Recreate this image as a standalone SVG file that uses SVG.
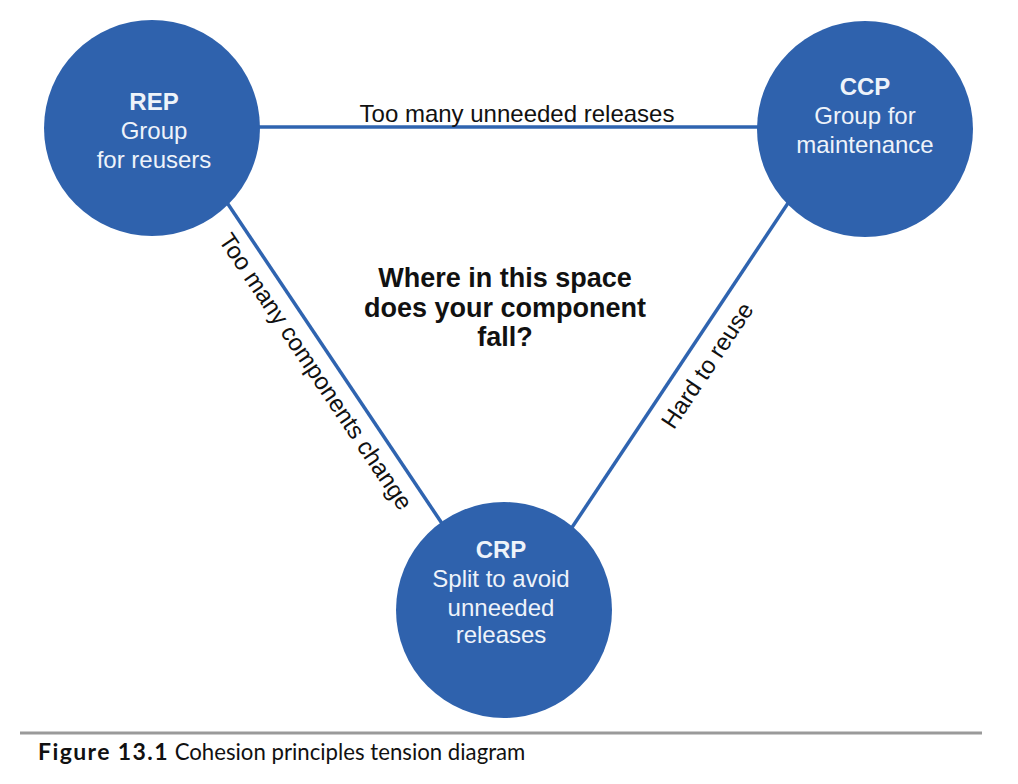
<svg xmlns="http://www.w3.org/2000/svg" width="1018" height="784" viewBox="0 0 1018 784">
<style>
.node{fill:#2f62ad}
.conn{stroke:#2f64b0;stroke-width:3.5;fill:none}
.nt{font-family:"Liberation Sans",Arial,sans-serif;font-size:24px;fill:#eef3fa;text-anchor:middle}
.nb{font-weight:bold}
.lbl{font-family:"Liberation Sans",Arial,sans-serif;font-size:24px;fill:#111;text-anchor:middle}
.q{font-family:"Liberation Sans",Arial,sans-serif;font-size:27px;font-weight:bold;fill:#111;text-anchor:middle}
.cap{font-family:Lato,"Open Sans",sans-serif;font-size:22.2px;fill:#111}
</style>
<rect width="1018" height="784" fill="#fff"/>
<g id="connectors">
<line class="conn" x1="152" y1="127" x2="865" y2="127"/>
<line class="conn" x1="177" y1="128" x2="500" y2="610"/>
<line class="conn" x1="838" y1="128" x2="517" y2="610"/>
<text class="lbl" x="517" y="122">Too many unneeded releases</text>
<text class="lbl" transform="translate(309,376) rotate(56.2)" x="0" y="0" font-size="23.4px">Too many components change</text>
<text class="lbl" transform="translate(714,370) rotate(-56.3)" x="0" y="0">Hard to reuse</text>
</g>
<g id="rep">
<circle class="node" cx="152" cy="128" r="108"/>
<text class="nt nb" x="154" y="110">REP</text>
<text class="nt" x="154" y="139">Group</text>
<text class="nt" x="154" y="168">for reusers</text>
</g>
<g id="ccp">
<circle class="node" cx="865" cy="129" r="108"/>
<text class="nt nb" x="865" y="95">CCP</text>
<text class="nt" x="865" y="124">Group for</text>
<text class="nt" x="865" y="153">maintenance</text>
</g>
<g id="crp">
<circle class="node" cx="504" cy="610" r="108"/>
<text class="nt nb" x="501" y="558">CRP</text>
<text class="nt" x="501" y="587">Split to avoid</text>
<text class="nt" x="501" y="616">unneeded</text>
<text class="nt" x="501" y="643">releases</text>
</g>
<g id="question">
<text class="q" x="505" y="287">Where in this space</text>
<text class="q" x="505" y="317">does your component</text>
<text class="q" x="505" y="346">fall?</text>
</g>
<g id="caption">
<line x1="20" y1="733" x2="982" y2="733" stroke="#9a9a9a" stroke-width="3"/>
<text class="cap" x="38" y="760"><tspan font-weight="bold" font-size="23px" letter-spacing="1.4">Figure 13.1</tspan> Cohesion principles tension diagram</text>
</g>
</svg>
